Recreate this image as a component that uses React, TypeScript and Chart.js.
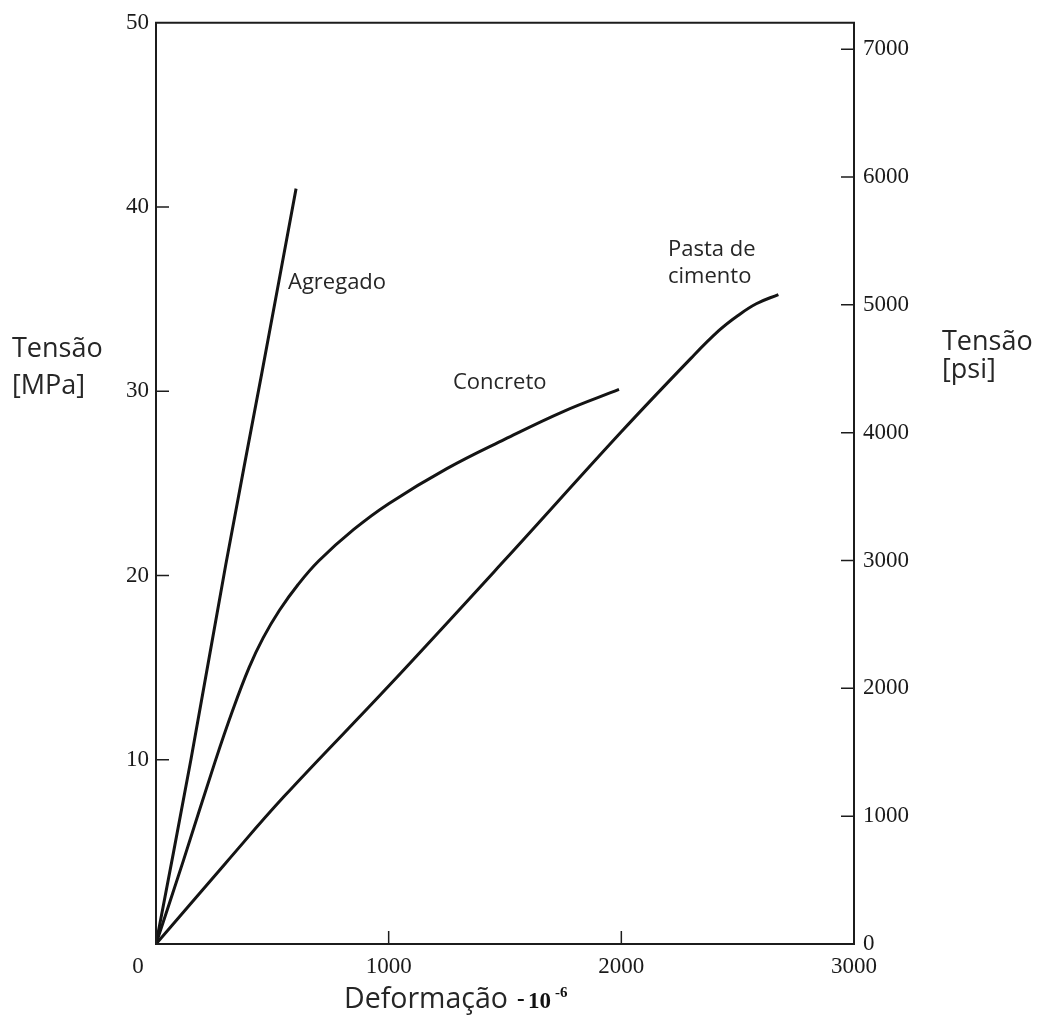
import React, { useEffect, useRef } from "react";
import { Chart, registerables } from "chart.js";

Chart.register(...registerables);

// ---- data (strain in 10^-6, stress in MPa) ----
const strainAgregado = [0, 150, 300, 455, 602];
const stressAgregado = [0, 10.0, 20.6, 31.0, 41.0];

const strainConcreto = [0, 117, 254, 330, 400, 460, 530, 610, 700, 850, 1000, 1250, 1500, 1750, 1990];
const stressConcreto = [0, 4.5, 9.9, 12.7, 15.0, 16.6, 18.1, 19.5, 20.8, 22.5, 23.9, 25.8, 27.4, 28.9, 30.1];

const strainPasta = [0, 300, 550, 1000, 1500, 2000, 2300, 2420, 2500, 2580, 2675];
const stressPasta = [0, 4.4, 8.0, 14.0, 20.85, 27.8, 31.8, 33.3, 34.1, 34.75, 35.25];

// ---- ticks ----
const strainTicks = [1000, 2000, 3000];
const mpaTicks = [10, 20, 30, 40, 50];
const psiTicks = [0, 1000, 2000, 3000, 4000, 5000, 6000, 7000];
const strainMax = 3000;
const mpaMax = 50;
const psiMax = 7206;

const curveLabels = [
  { lines: ["Agregado"], x: 288, y: 289 },
  { lines: ["Concreto"], x: 453, y: 389 },
  { lines: ["Pasta de", "cimento"], x: 668, y: 256 },
];

const SERIF = "'Liberation Serif', 'Times New Roman', serif";
const SANS = "'Open Sans', 'Noto Sans', sans-serif";

const toXY = (xs: number[], ys: number[]) => xs.map((x, i) => ({ x, y: ys[i] }));

const decorPlugin = {
  id: "decor",
  afterDraw(chart: any) {
    const { ctx, chartArea: a, scales } = chart;
    const sx = scales.x;
    const sy = scales.y;
    const sy2 = scales.y2;
    ctx.save();
    // frame
    ctx.strokeStyle = "#1c1c1c";
    ctx.lineWidth = 2;
    ctx.beginPath();
    ctx.rect(a.left, a.top, a.right - a.left, a.bottom - a.top);
    ctx.stroke();
    // inner tick marks
    ctx.lineWidth = 1.5;
    ctx.beginPath();
    mpaTicks.filter((v) => v < mpaMax).forEach((v) => {
      const p = sy.getPixelForValue(v);
      ctx.moveTo(a.left, p);
      ctx.lineTo(a.left + 13, p);
    });
    psiTicks.filter((v) => v > 0).forEach((v) => {
      const p = sy2.getPixelForValue(v);
      ctx.moveTo(a.right, p);
      ctx.lineTo(a.right - 13, p);
    });
    strainTicks.filter((v) => v < strainMax).forEach((v) => {
      const p = sx.getPixelForValue(v);
      ctx.moveTo(p, a.bottom);
      ctx.lineTo(p, a.bottom - 13);
    });
    ctx.stroke();

    // x-axis "0" label (offset left as in the original)
    ctx.fillStyle = "#1a1a1a";
    ctx.font = `23px ${SERIF}`;
    ctx.textAlign = "center";
    ctx.textBaseline = "alphabetic";
    ctx.fillText("0", sx.getPixelForValue(0) - 18, 973);

    // curve labels
    ctx.fillStyle = "#262626";
    ctx.textAlign = "left";
    ctx.font = `22px ${SANS}`;
    curveLabels.forEach((l) => {
      l.lines.forEach((t, i) => ctx.fillText(t, l.x, l.y + i * 27));
    });

    // axis titles
    ctx.font = `27px ${SANS}`;
    ctx.fillText("Tensão", 12, 357);
    ctx.fillText("[MPa]", 12, 394);
    ctx.fillText("Tensão", 942, 350);
    ctx.fillText("[psi]", 942, 378);
    ctx.font = `28.5px ${SANS}`;
    ctx.fillText("Deformação", 344, 1008);
    ctx.fillStyle = "#111";
    ctx.font = `bold 23px ${SERIF}`;
    ctx.fillText("-", 517, 1006);
    ctx.fillText("10", 528, 1008);
    ctx.font = `bold 15px ${SERIF}`;
    ctx.fillText("-6", 555, 997);
    ctx.restore();
  },
};

export default function App() {
  const canvasRef = useRef<HTMLCanvasElement | null>(null);

  useEffect(() => {
    if (!canvasRef.current) return;
    const lineStyle = {
      borderColor: "#141414",
      borderWidth: 3,
      pointRadius: 0,
      fill: false,
      tension: 0.4,
    };
    const tickFont = { family: SERIF, size: 23 };
    const plain = (v: any) => String(v);
    const chart = new Chart(canvasRef.current, {
      type: "line",
      data: {
        datasets: [
          { label: "Agregado", data: toXY(strainAgregado, stressAgregado), ...lineStyle },
          { label: "Concreto", data: toXY(strainConcreto, stressConcreto), ...lineStyle },
          { label: "Pasta de cimento", data: toXY(strainPasta, stressPasta), ...lineStyle },
        ],
      },
      options: {
        animation: false,
        responsive: true,
        maintainAspectRatio: false,
        layout: { padding: { top: 18, left: 0, right: 0, bottom: 0 } },
        plugins: {
          legend: { display: false },
          tooltip: { enabled: false },
        },
        scales: {
          x: {
            type: "linear",
            position: "bottom",
            min: 0,
            max: strainMax,
            afterBuildTicks: (s: any) => {
              s.ticks = strainTicks.map((v) => ({ value: v }));
            },
            afterFit: (s: any) => {
              s.height = 75;
            },
            grid: { display: false, drawTicks: false },
            border: { display: false },
            ticks: {
              padding: 9,
              maxRotation: 0,
              autoSkip: false,
              color: "#1a1a1a",
              font: tickFont,
              callback: plain,
            },
          },
          y: {
            type: "linear",
            position: "left",
            min: 0,
            max: mpaMax,
            afterBuildTicks: (s: any) => {
              s.ticks = mpaTicks.map((v) => ({ value: v }));
            },
            afterFit: (s: any) => {
              s.width = 156;
            },
            grid: { display: false, drawTicks: false },
            border: { display: false },
            ticks: {
              padding: 7,
              autoSkip: false,
              color: "#1a1a1a",
              font: tickFont,
              callback: plain,
            },
          },
          y2: {
            type: "linear",
            position: "right",
            min: 0,
            max: psiMax,
            afterBuildTicks: (s: any) => {
              s.ticks = psiTicks.map((v) => ({ value: v }));
            },
            afterFit: (s: any) => {
              s.width = 188;
            },
            grid: { display: false, drawTicks: false },
            border: { display: false },
            ticks: {
              padding: 9,
              autoSkip: false,
              color: "#1a1a1a",
              font: tickFont,
              callback: plain,
            },
          },
        },
      },
      plugins: [decorPlugin],
    });
    return () => chart.destroy();
  }, []);

  return (
    <div
      style={{
        position: "fixed",
        left: 0,
        top: 0,
        width: 1042,
        height: 1019,
        background: "#fff",
      }}
    >
      <canvas ref={canvasRef} />
    </div>
  );
}
